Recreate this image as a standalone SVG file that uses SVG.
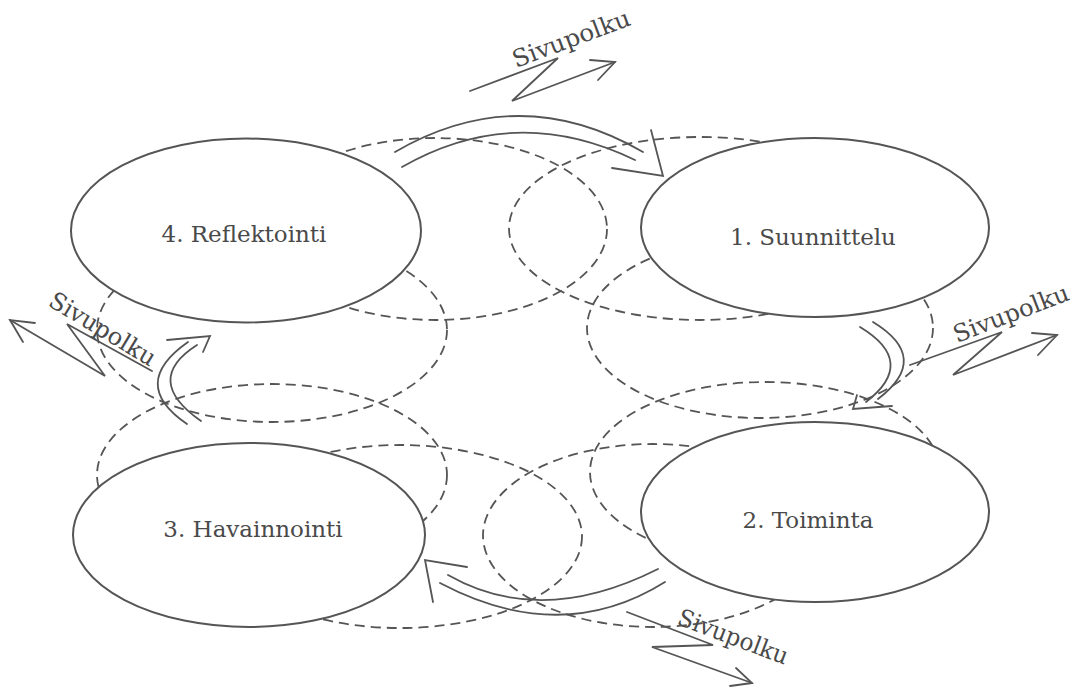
<svg xmlns="http://www.w3.org/2000/svg" width="1074" height="689" viewBox="0 0 1074 689">
<style>
.bg{fill:#fff}
.dash{fill:none;stroke:#555;stroke-width:1.8;stroke-dasharray:10 6}
.node ellipse{fill:#fff;stroke:#555;stroke-width:2}
.node text{font-family:"DejaVu Serif","Liberation Serif",serif;font-size:23px;fill:#4a4a4a;text-anchor:middle}
.ln{fill:none;stroke:#555;stroke-width:1.8;stroke-linecap:round;stroke-linejoin:miter}
.side{font-family:"DejaVu Serif","Liberation Serif",serif;font-size:24px;fill:#4a4a4a}
</style>
<rect class="bg" x="0" y="0" width="1074" height="689"/>
<g id="mini-cycles">
  <ellipse class="dash" cx="435" cy="229" rx="172" ry="91"/>
  <ellipse class="dash" cx="700" cy="228.5" rx="191" ry="91.5"/>
  <ellipse class="dash" cx="760" cy="328" rx="173" ry="90"/>
  <ellipse class="dash" cx="765" cy="472" rx="175" ry="90"/>
  <ellipse class="dash" cx="400" cy="536.5" rx="182" ry="91.5"/>
  <ellipse class="dash" cx="653" cy="535.5" rx="170" ry="91.5"/>
  <ellipse class="dash" cx="272" cy="330" rx="175" ry="92"/>
  <ellipse class="dash" cx="272" cy="475" rx="175" ry="91"/>
</g>
<g id="node-4" class="node">
  <ellipse cx="246" cy="230.5" rx="175" ry="92"/>
  <text x="244" y="242">4. Reflektointi</text>
</g>
<g id="node-1" class="node">
  <ellipse cx="815" cy="227.5" rx="174" ry="89.5"/>
  <text x="813" y="245">1. Suunnittelu</text>
</g>
<g id="node-2" class="node">
  <ellipse cx="815" cy="512" rx="174" ry="90"/>
  <text x="808" y="528">2. Toiminta</text>
</g>
<g id="node-3" class="node">
  <ellipse cx="249" cy="535" rx="176" ry="92"/>
  <text x="253" y="537">3. Havainnointi</text>
</g>
<g id="connectors">
  <g id="arrow-4-1">
    <path class="ln" d="M395,152 Q519,80 643,152"/>
    <path class="ln" d="M402,167 Q515,102 635,160"/>
    <polyline class="ln" points="612,168 663,176 651,130"/>
  </g>
  <g id="arrow-1-2">
    <path class="ln" d="M860,327 Q918,362 866,402"/>
    <path class="ln" d="M873,322 Q932,358 878,399"/>
    <polyline class="ln" points="857,395 853,409 892,406"/>
  </g>
  <g id="arrow-2-3">
    <path class="ln" d="M665,582 Q561,647 440,583"/>
    <path class="ln" d="M658,569 Q541,628 448,575"/>
    <polyline class="ln" points="467,567 425,560 433,602"/>
  </g>
  <g id="arrow-3-4">
    <path class="ln" d="M187,424 Q128,384 188,342"/>
    <path class="ln" d="M201,421 Q142,380 197,345"/>
    <polyline class="ln" points="167,340 210,336 203,352"/>
  </g>
</g>
<g id="side-paths">
  <g id="side-top">
    <polyline class="ln" points="470,91 558,58 512,101 615,62"/>
    <polyline class="ln" points="590,60 615,62 598,80"/>
    <text class="side" transform="translate(516,68) rotate(-20.5)" textLength="124" lengthAdjust="spacingAndGlyphs">Sivupolku</text>
  </g>
  <g id="side-right">
    <polyline class="ln" points="910,365 1002,332 953,375 1057,335"/>
    <polyline class="ln" points="1032,333 1057,335 1038,355"/>
    <text class="side" transform="translate(957,343) rotate(-21)" textLength="122" lengthAdjust="spacingAndGlyphs">Sivupolku</text>
  </g>
  <g id="side-left">
    <polyline class="ln" points="152,371 67,324 105,376 10,320"/>
    <polyline class="ln" points="35,323 10,320 23,342"/>
    <text class="side" transform="translate(47,305) rotate(31)" textLength="120" lengthAdjust="spacingAndGlyphs">Sivupolku</text>
  </g>
  <g id="side-bottom">
    <polyline class="ln" points="627,612 713,645 652,647 752,683"/>
    <polyline class="ln" points="736,668 752,683 730,686"/>
    <text class="side" transform="translate(676,624) rotate(20.6)" textLength="116" lengthAdjust="spacingAndGlyphs">Sivupolku</text>
  </g>
</g>
</svg>
